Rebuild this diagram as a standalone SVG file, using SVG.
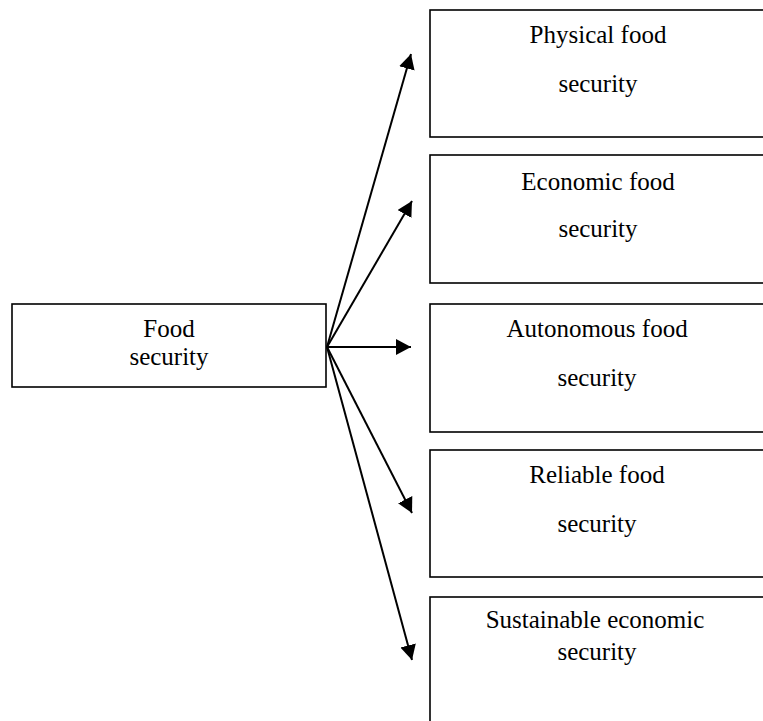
<svg xmlns="http://www.w3.org/2000/svg" width="763" height="721" viewBox="0 0 763 721">
<defs>
<marker id="ah" markerUnits="userSpaceOnUse" markerWidth="17" markerHeight="17" refX="15" refY="8" orient="auto">
<path d="M0,0 L15,8 L0,16 z" fill="#000"/>
</marker>
<style>
.box{fill:#fff;stroke:#000;stroke-width:1.6}
.t{font-family:"Liberation Serif","Times New Roman",serif;font-size:25px;fill:#000;text-anchor:middle}
.c{stroke:#000;stroke-width:2;fill:none;marker-end:url(#ah)}
</style>
</defs>
<rect width="763" height="721" fill="#fff"/>
<g id="food-security">
<rect class="box" x="12" y="304" width="314" height="83"/>
<text class="t" x="169" y="337">Food</text>
<text class="t" x="169" y="365">security</text>
</g>
<g id="physical">
<rect class="box" x="430" y="10" width="340" height="127"/>
<text class="t" x="598" y="43">Physical food</text>
<text class="t" x="598" y="92">security</text>
</g>
<g id="economic">
<rect class="box" x="430" y="155" width="340" height="128"/>
<text class="t" x="598" y="190">Economic food</text>
<text class="t" x="598" y="237">security</text>
</g>
<g id="autonomous">
<rect class="box" x="430" y="304" width="340" height="128"/>
<text class="t" x="597" y="337">Autonomous food</text>
<text class="t" x="597" y="386">security</text>
</g>
<g id="reliable">
<rect class="box" x="430" y="450" width="340" height="127"/>
<text class="t" x="597" y="483">Reliable food</text>
<text class="t" x="597" y="532">security</text>
</g>
<g id="sustainable">
<rect class="box" x="430" y="597" width="340" height="140"/>
<text class="t" x="595" y="628">Sustainable economic</text>
<text class="t" x="597" y="660">security</text>
</g>
<g id="connectors">
<line class="c" x1="327" y1="347" x2="411" y2="54"/>
<line class="c" x1="327" y1="347" x2="412" y2="201"/>
<line class="c" x1="327" y1="347" x2="411" y2="347"/>
<line class="c" x1="327" y1="347" x2="412" y2="513"/>
<line class="c" x1="327" y1="347" x2="412" y2="660"/>
</g>
</svg>
